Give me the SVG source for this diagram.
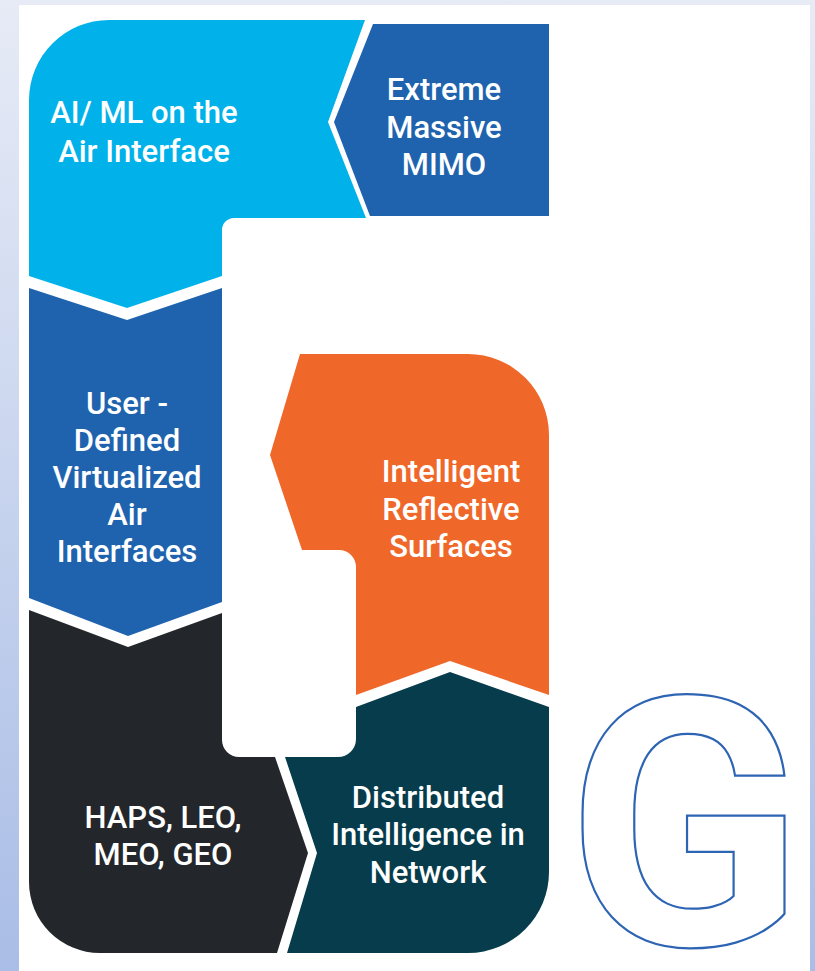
<svg xmlns="http://www.w3.org/2000/svg" width="815" height="971" viewBox="0 0 815 971">
  <defs>
    <linearGradient id="frame" x1="0" y1="0" x2="0" y2="1">
      <stop offset="0" stop-color="#e7ebf6"/>
      <stop offset="1" stop-color="#a9bde6"/>
    </linearGradient>
  </defs>
  <style>
    .lbl { font-family: Roboto, "Liberation Sans", sans-serif; font-weight: 500; font-size: 31px; fill: #ffffff; text-anchor: middle; }
    .g { font-family: Roboto, "Liberation Sans", sans-serif; font-weight: 700; font-size: 348px; fill: #ffffff; stroke: #2d64b3; stroke-width: 2.2; text-anchor: middle; }
  </style>
  <rect x="0" y="0" width="815" height="971" fill="url(#frame)"/>
  <rect x="19" y="5" width="791" height="966" fill="#ffffff"/>

  <g id="ai-ml">
    <path d="M109 20 L365 20 L328 122 L366 218 L234 218 A12 12 0 0 0 222 230 L222 276 L127 308 L29 276 L29 100 A80 80 0 0 1 109 20 Z" fill="#00b2e9"/>
    <text class="lbl" x="144" y="123">AI/ ML on the</text>
    <text class="lbl" x="144" y="162">Air Interface</text>
  </g>

  <g id="massive-mimo">
    <path d="M373 24 L549 24 L549 216 L370 216 L334 122 Z" fill="#1f63af"/>
    <text class="lbl" x="444" y="100">Extreme</text>
    <text class="lbl" x="444" y="138">Massive</text>
    <text class="lbl" x="444" y="175">MIMO</text>
  </g>

  <g id="user-defined">
    <path d="M29 288 L127 320 L222 288 L222 602 L128 636 L29 598 Z" fill="#1f63af"/>
    <text class="lbl" x="127" y="414">User -</text>
    <text class="lbl" x="127" y="451">Defined</text>
    <text class="lbl" x="127" y="488">Virtualized</text>
    <text class="lbl" x="127" y="525">Air</text>
    <text class="lbl" x="127" y="562">Interfaces</text>
  </g>

  <g id="irs">
    <path d="M300 354 L468 354 A81 81 0 0 1 549 435 L549 695 L450 661 L356 695 L356 567 A17 17 0 0 0 339 550 L302 550 L270 455 Z" fill="#f0672a"/>
    <text class="lbl" x="451" y="482">Intelligent</text>
    <text class="lbl" x="451" y="520">Reflective</text>
    <text class="lbl" x="451" y="557">Surfaces</text>
  </g>

  <g id="haps">
    <path d="M29 610 L128 647 L222 613 L222 740 A17 17 0 0 0 239 757 L275 757 L308 853 L277 953 L100 953 A71 71 0 0 1 29 882 Z" fill="#23272b"/>
    <text class="lbl" x="163" y="828">HAPS, LEO,</text>
    <text class="lbl" x="163" y="865">MEO, GEO</text>
  </g>

  <g id="distributed">
    <path d="M285 757 L338 757 A18 18 0 0 0 356 739 L356 707 L450 672 L549 707 L549 872 A81 81 0 0 1 468 953 L287 953 L317 853 Z" fill="#063c4b"/>
    <text class="lbl" x="428" y="808">Distributed</text>
    <text class="lbl" x="428" y="845">Intelligence in</text>
    <text class="lbl" x="428" y="883">Network</text>
  </g>

  <g id="connectors"></g>

  <g id="letter-g">
    <text class="g" x="685" y="945">G</text>
  </g>
</svg>
